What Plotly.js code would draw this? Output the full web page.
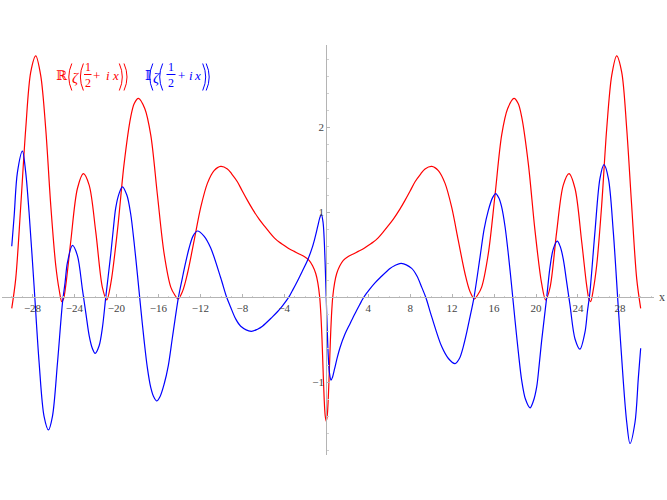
<!DOCTYPE html>
<html><head><meta charset="utf-8">
<script src="https://cdn.plot.ly/plotly-3.0.1.min.js"></script>
<style>html,body{margin:0;padding:0;background:#fff}</style>
</head><body>
<div id="chart" style="width:667px;height:500px"></div>
<script>
// Re(zeta(1/2 + i x)) — red
const reX = [-29.98,-29.6,-29.12,-28.65,-28.17,-27.69,-27.22,-26.74,-26.26,-25.79,-25.45,-25.21,-25.05,-24.83,-24.36,-23.72,-23.15,-22.6,-21.97,-21.33,-20.92,-20.54,-19.9,-19.27,-18.64,-18.3,-17.9,-17.3,-16.73,-16.09,-15.45,-14.82,-14.45,-14.12,-13.7,-13.23,-12.59,-11.96,-11.33,-10.69,-10.06,-9.42,-9.0,-8.47,-8.0,-7.51,-7.04,-6.4,-5.9,-5.44,-4.95,-4.49,-4.0,-3.54,-3.05,-2.58,-2.1,-1.63,-1.3,-1.0,-0.8,-0.62,-0.5,-0.4,-0.3,-0.2,-0.1,
  0,0.1,0.2,0.3,0.4,0.5,0.62,0.8,1.0,1.3,1.63,2.1,2.58,3.05,3.54,4.0,4.49,4.95,5.44,5.9,6.4,7.04,7.51,8.0,8.47,9.0,9.42,10.06,10.69,11.33,11.96,12.59,13.23,13.7,14.12,14.45,14.82,15.45,16.09,16.73,17.3,17.9,18.3,18.64,19.27,19.9,20.54,20.92,21.33,21.97,22.6,23.15,23.72,24.36,24.83,25.05,25.21,25.45,25.79,26.26,26.74,27.22,27.69,28.17,28.65,29.12,29.6,29.98];
const reY = [-0.13,0.22,1.08,1.98,2.65,2.84,2.61,1.98,1.08,0.38,0.08,-0.05,-0.02,0.14,0.65,1.28,1.455,1.32,0.77,0.11,-0.03,0.16,0.79,1.57,2.12,2.28,2.34,2.22,1.91,1.2,0.51,0.12,0.03,-0.02,0.07,0.28,0.67,1.06,1.34,1.49,1.54,1.51,1.45,1.36,1.25,1.14,1.04,0.92,0.84,0.77,0.70,0.65,0.61,0.57,0.54,0.51,0.48,0.435,0.37,0.28,0.17,0,-0.22,-0.5,-0.85,-1.18,-1.39,
  -1.46,-1.39,-1.18,-0.85,-0.5,-0.22,0,0.17,0.28,0.37,0.435,0.48,0.51,0.54,0.57,0.61,0.65,0.70,0.77,0.84,0.92,1.04,1.14,1.25,1.36,1.45,1.51,1.54,1.49,1.34,1.06,0.67,0.28,0.07,-0.02,0.03,0.12,0.51,1.2,1.91,2.22,2.34,2.28,2.12,1.57,0.79,0.16,-0.03,0.11,0.77,1.32,1.455,1.28,0.65,0.14,-0.02,-0.05,0.08,0.38,1.08,1.98,2.61,2.84,2.65,1.98,1.08,0.22,-0.13];

// Im(zeta(1/2 + i x)) — blue
const imX = [-29.98,-29.75,-29.44,-28.96,-28.65,-28.33,-27.85,-27.37,-26.9,-26.48,-26.1,-25.62,-25.14,-24.9,-24.67,-24.19,-23.72,-23.24,-22.9,-22.6,-22.3,-22.03,-21.65,-21.33,-21.02,-20.54,-20.3,-20.07,-19.75,-19.43,-19.0,-18.64,-18.32,-18.0,-17.68,-17.36,-17.05,-16.73,-16.45,-16.16,-15.85,-15.45,-15.05,-14.66,-14.09,-13.71,-13.4,-13.07,-12.7,-12.28,-11.65,-11.01,-10.06,-9.49,-9.1,-8.65,-8.15,-7.15,-6.55,-6.08,-5.13,-4.65,-4.17,-3.8,-3.48,-3.22,-2.75,-2.27,-1.8,-1.32,-1.05,-0.8,-0.6,-0.46,-0.3,-0.2,-0.1,
  0,0.1,0.2,0.3,0.46,0.6,0.8,1.05,1.32,1.8,2.27,2.75,3.22,3.48,3.8,4.17,4.65,5.13,6.08,6.55,7.15,8.15,8.65,9.1,9.49,10.06,11.01,11.65,12.28,12.7,13.07,13.4,13.71,14.09,14.66,15.05,15.45,15.85,16.16,16.45,16.73,17.05,17.36,17.68,18.0,18.32,18.64,19.0,19.43,19.75,20.07,20.3,20.54,21.02,21.33,21.65,22.03,22.3,22.6,22.9,23.24,23.72,24.19,24.67,24.9,25.14,25.62,26.1,26.48,26.9,27.37,27.85,28.33,28.65,28.96,29.44,29.75,29.98];
const imY = [0.6,0.96,1.47,1.72,1.47,1.0,0.13,-0.77,-1.40,-1.56,-1.40,-0.77,-0.06,0.17,0.41,0.61,0.49,0.09,-0.2,-0.45,-0.6,-0.66,-0.57,-0.35,0,0.51,0.8,1.05,1.22,1.30,1.2,0.98,0.65,0.27,-0.13,-0.51,-0.83,-1.06,-1.17,-1.22,-1.17,-1.02,-0.8,-0.47,0,0.23,0.41,0.58,0.72,0.78,0.72,0.58,0.23,0,-0.12,-0.25,-0.34,-0.40,-0.375,-0.34,-0.23,-0.17,-0.1,-0.04,0.02,0.08,0.19,0.31,0.43,0.59,0.71,0.84,0.94,0.975,0.88,0.70,0.39,
  0,-0.39,-0.70,-0.88,-0.975,-0.94,-0.84,-0.71,-0.59,-0.43,-0.31,-0.19,-0.08,-0.02,0.04,0.1,0.17,0.23,0.34,0.375,0.40,0.34,0.25,0.12,0,-0.23,-0.58,-0.72,-0.78,-0.72,-0.58,-0.41,-0.23,0,0.47,0.8,1.02,1.17,1.22,1.17,1.06,0.83,0.51,0.13,-0.27,-0.65,-0.98,-1.2,-1.30,-1.22,-1.05,-0.8,-0.51,0,0.35,0.57,0.66,0.6,0.45,0.2,-0.09,-0.49,-0.61,-0.41,-0.17,0.06,0.77,1.40,1.56,1.40,0.77,-0.13,-1.0,-1.47,-1.72,-1.47,-0.96,-0.6];

const xTicks = [-28,-24,-20,-16,-12,-8,-4,4,8,12,16,20,24,28];
const yTicks = [-1,1,2];
const axisLabelX = 'x';

const RED = 'rgb(255,0,0)', BLUE = 'rgb(0,0,255)';

// pixel -> paper helpers (plot area: x 2..654, y 45..455)
const L = 2, R = 654, T = 45, B = 455;
const px = v => (v - L) / (R - L);
const py = v => (B - v) / (B - T);

const SER = 'Liberation Serif';
function g(t, x, y, size, color, fam, italic) {
  return {text: italic ? '<i>' + t + '</i>' : t, x: px(x), y: py(y), xref: 'paper', yref: 'paper',
    xanchor: 'center', yanchor: 'middle', showarrow: false, borderpad: 0,
    font: {family: fam || SER, size: size, color: color}};
}
// thin stretched parentheses drawn as curves
function paren(xEnd, xCtrl, color) {
  return {type: 'path', xref: 'paper', yref: 'paper',
    path: 'M ' + px(xEnd) + ',' + py(63.5) + ' Q ' + px(xCtrl) + ',' + py(77) + ' ' + px(xEnd) + ',' + py(90.5),
    line: {color: color, width: 1}};
}
function bar(x0, x1, color) {
  return {type: 'line', xref: 'paper', yref: 'paper', x0: px(x0), x1: px(x1), y0: py(74.5), y1: py(74.5), line: {color: color, width: 1}};
}

const legendText = [
  g('ℝ', 62.2, 76, 13, RED, 'DejaVu Serif'),
  g('ζ', 75.5, 78, 15, RED, SER, true),
  g('1', 87.5, 67, 12, RED, SER),
  g('2', 87.5, 83.5, 12, RED, SER),
  g('+', 96.7, 76, 13, RED, SER),
  g('i', 108, 76, 13, RED, SER, true),
  g('x', 115, 76, 13, RED, SER, true),
  g('𝕀', 147.8, 76, 13, BLUE, 'DejaVu Serif'),
  g('ζ', 156.3, 78, 15, BLUE, SER, true),
  g('1', 170.8, 67, 12, BLUE, SER),
  g('2', 170.8, 83.5, 12, BLUE, SER),
  g('+', 181.7, 76, 13, BLUE, SER),
  g('i', 191.3, 76, 13, BLUE, SER, true),
  g('x', 197.8, 76, 13, BLUE, SER, true)
];
const legendShapes = [
  paren(71.8, 65.8, RED), paren(83.4, 77.4, RED), paren(119.3, 125.3, RED), paren(124.0, 130.0, RED),
  bar(84, 91.5, RED),
  paren(152.8, 146.8, BLUE), paren(162.7, 156.7, BLUE), paren(202.7, 208.7, BLUE), paren(206.2, 212.2, BLUE),
  bar(166.5, 175.5, BLUE)
];

const xr = [-30.91, 31.25], yr = [-1.855, 2.968];
const tickFont = {family: SER, size: 11, color: '#444'};
const AX = '#b4b4b4';

const data = [
  {x: reX, y: reY, type: 'scatter', mode: 'lines', line: {color: RED, width: 1.2, shape: 'spline', smoothing: 0.9}, hoverinfo: 'skip'},
  {x: imX, y: imY, type: 'scatter', mode: 'lines', line: {color: BLUE, width: 1.2, shape: 'spline', smoothing: 0.9}, hoverinfo: 'skip'}
];

const layout = {
  width: 667, height: 500,
  margin: {l: L, r: 667 - R, t: T, b: 500 - B, pad: 0},
  paper_bgcolor: '#fff', plot_bgcolor: '#fff',
  showlegend: false,
  xaxis: {range: xr, anchor: 'free', position: (0 - yr[0]) / (yr[1] - yr[0]),
    showgrid: false, zeroline: false, showline: true, linecolor: AX, linewidth: 1,
    tickmode: 'array', tickvals: xTicks, ticks: 'inside', ticklen: 3, tickcolor: AX, tickfont: tickFont,
    minor: {tickmode: 'linear', tick0: 0, dtick: 1, ticks: 'inside', ticklen: 1.5, tickcolor: '#d0d0d0'}},
  yaxis: {range: yr, anchor: 'free', position: (0 - xr[0]) / (xr[1] - xr[0]),
    showgrid: false, zeroline: false, showline: true, linecolor: AX, linewidth: 1,
    tickmode: 'array', tickvals: yTicks, ticks: 'inside', ticklen: 3, tickcolor: AX, tickfont: tickFont,
    minor: {tickmode: 'linear', tick0: 0, dtick: 0.2, ticks: 'inside', ticklen: 1.5, tickcolor: '#d0d0d0'}},
  annotations: legendText.concat([
    {text: axisLabelX, x: 1.004, y: 0, xref: 'paper', yref: 'y', xanchor: 'left', yanchor: 'middle', showarrow: false,
     font: {family: SER, size: 12, color: '#444'}}
  ]),
  shapes: legendShapes
};

Plotly.newPlot('chart', data, layout, {displayModeBar: false, staticPlot: true});
</script>
</body></html>
